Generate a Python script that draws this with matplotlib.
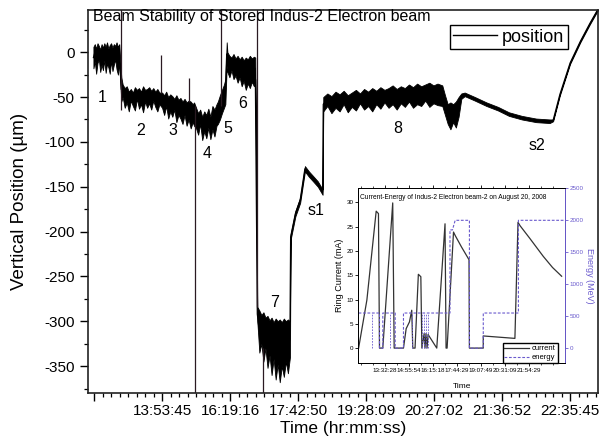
import matplotlib
matplotlib.use("Agg")
import matplotlib.pyplot as plt
from matplotlib.lines import Line2D
from matplotlib.ticker import FixedLocator, MultipleLocator
import numpy as np

plt.rcParams["font.family"] = ["Liberation Sans", "DejaVu Sans"]
plt.rcParams["axes.unicode_minus"] = False

# ---------- main trace: vertical position (um) vs sample index ----------
# noisy band read off the picture as upper / lower envelope
POS_X = [
    -1, 1, 3, 5, 7, 9, 11, 13, 15, 17, 19, 21, 23, 25, 27, 29, 31, 33, 35, 37,          # 1
    40, 42, 45, 48, 51, 54, 57, 60, 63, 66, 69, 72, 75, 78, 81, 84, 87, 90, 93, 96,     # 2
    100, 103, 106, 109, 112, 115, 118, 121, 124, 127, 130, 133, 136, 139, 142, 145, 147,  # 3
    150, 153, 156, 159, 162, 165, 168, 171, 174, 177, 180,                              # 4
    182, 185, 188, 191, 193,                                                            # 5
    195, 196, 199, 202, 205, 208, 211, 214, 217, 220, 223, 226, 229, 232, 235, 237,     # 6
    240, 243, 246, 249, 252, 255, 258, 261, 264, 267, 270, 273, 276, 279, 282, 285, 288,  # 7
    289, 296, 303, 310, 316, 322, 329, 336,                                             # s1
    337, 343, 349, 355, 361, 367, 373, 379, 385, 391, 397, 403, 409, 415, 421,
    427, 433, 439, 445, 451, 457, 463, 469, 475, 481, 487, 493, 499, 505, 512,          # 8
    516, 520, 524, 528, 532, 536, 540,                                                  # dip
    545, 560, 577, 594, 610, 629, 650, 670,                                             # s2
    675, 685, 700, 715, 729, 741,                                                       # rise
]
POS_HI = [
    6, 9, 4, 10, 7, 3, 9, 5, 10, 6, 11, 4, 8, 10, 5, 9, 7, 11, 6, 9,
    -28, -36, -40, -38, -44, -41, -45, -39, -42, -40, -44, -38, -42, -41, -39, -43, -40, -44, -41, -45,
    -45, -48, -44, -50, -47, -49, -52, -48, -53, -51, -55, -52, -56, -54, -55, -58, -56,
    -62, -68, -64, -72, -66, -70, -63, -72, -60, -64, -58,
    -55, -48, -42, -36, -30,
    11, 0, -4, -6, -2, -7, -4, -8, -5, -9, -6, -8, -4, -7, -5, -6,
    -284, -288, -293, -290, -296, -294, -299, -296, -301, -297, -300, -298, -301, -297, -300, -298, -300,
    -203, -177, -162, -127, -133, -138, -144, -153,
    -50, -46, -49, -44, -47, -43, -48, -45, -42, -46, -41, -44, -40, -43, -39,
    -42, -40, -37, -41, -38, -40, -36, -39, -35, -38, -36, -34, -37, -35, -37,
    -48, -58, -56, -58, -55, -50, -46,
    -45, -50, -56, -61, -67, -71, -74, -75,
    -75, -46, -11, 13, 33, 49,
]
POS_LO = [
    -18, -10, -24, -12, -8, -22, -14, -20, -9, -23, -13, -17, -24, -10, -21, -14, -8, -19, -25, -12,
    -55, -50, -62, -56, -66, -54, -60, -65, -52, -63, -58, -67, -55, -62, -57, -64, -54, -61, -66, -58,
    -62, -70, -60, -74, -66, -72, -64, -78, -70, -74, -80, -70, -82, -75, -85, -78, -82,
    -85, -92, -80, -98, -88, -96, -84, -97, -86, -94, -82,
    -80, -75, -68, -62, -58,
    -15, -22, -28, -20, -30, -26, -34, -28, -38, -32, -42, -35, -40, -33, -38, -30,
    -300, -335, -325, -345, -330, -352, -338, -360, -342, -365, -348, -368, -350, -362, -345, -358, -340,
    -209, -183, -168, -133, -139, -144, -150, -159,
    -66, -60, -68, -62, -66, -58, -67, -61, -65, -57, -64, -60, -66, -58, -63,
    -56, -62, -58, -64, -57, -61, -55, -62, -58, -60, -54, -61, -57, -59, -60,
    -70, -80, -86, -78, -84, -72, -52,
    -49, -54, -60, -65, -71, -75, -78, -79,
    -77, -48, -13, 11, 31, 47,
]

# transient spikes (vertical strokes)
SPIKE_X = [39, 98.5, 140, 149, 187, 239.5, 249]
SPIKE_TOP = [60, -3, -29, -60, 60, 60, -330]
SPIKE_BOT = [-65, -45, -55, -400, -60, -284, -400]

TIME_TICKS = [0, 100, 200, 300, 400, 500, 600, 700]
TIME_LABELS = ["", "13:53:45", "16:19:16", "17:42:50", "19:28:09",
               "20:27:02", "21:36:52", "22:35:45"]

REGION_TEXT = ["1", "2", "3", "4", "5", "6", "7", "8", "s1", "s2"]
REGION_X = [12, 68, 116, 166, 196, 219, 266, 446, 326, 651]
REGION_Y = [-50, -87, -87, -113, -85, -57, -279, -85, -176, -104]

# ---------- inset: ring current (mA) and energy (MeV) ----------
CUR_X = [0.2, 4.2, 8.7, 9.8, 10.3, 11.9, 16.7, 17.4, 21.9, 23.2, 24.8, 25.9, 26.4,
         27.5, 29.1, 30.3, 30.8, 31.9, 32.3, 32.8, 33.3, 33.8, 38.0, 42.0, 42.5,
         43.0, 46.1, 46.9, 50.0, 53.6, 53.8, 60.5, 60.5, 75.8, 77.3, 78.3, 83.0,
         89.5, 94.0, 98.4]
CUR_MA = [0, 9.9, 28.2, 27.7, 0, 0, 29.9, 0, 0, 4.0, 5.4, 7.8, 0,
          0, 15.2, 14.7, 0, 3.0, 0, 3.0, 0, 2.8, 0, 25.6, 0,
          0, 23.9, 23.2, 20.8, 18.2, 0, 0, 2.5, 2.0, 25.9, 25.2, 22.6,
          18.9, 16.6, 14.8]

EN_X = [0, 0, 10.3, 10.3, 11.9, 11.9, 17.9, 17.9, 21.9, 21.9, 44.4, 44.4,
        45.6, 46.9, 53.8, 53.8, 60.5, 60.5, 77.5, 77.5, 100]
EN_MEV = [0, 550, 550, 0, 0, 550, 550, 0, 0, 550, 550, 1850,
          1850, 2000, 2000, 0, 0, 550, 550, 2000, 2000]
EN_DIP_X = [6.5, 15.5, 26.0, 31.0, 32.0, 33.0, 34.0]

INSET_TICKS = [13.0, 24.6, 36.2, 47.8, 59.4, 71.0, 82.6]
INSET_LABELS = ["13:32:28", "14:55:54", "16:15:18", "17:44:29",
                "19:07:49", "20:31:09", "21:54:29"]

EN_COLOR = "#6a5acd"


def draw_main(fig):
    ax = fig.add_axes([0.1464, 0.1007, 0.8486, 0.8763])
    x = np.array(POS_X, dtype=float)
    hi = np.array(POS_HI, dtype=float)
    lo = np.array(POS_LO, dtype=float)

    ax.fill_between(x, lo, hi, color="black", linewidth=0.6, edgecolor="black")
    ax.plot(x, (hi + lo) / 2, color="black", lw=0.9)
    ax.vlines(SPIKE_X, SPIKE_BOT, SPIKE_TOP, color="#2a1a22", lw=0.9)

    for t, xx, yy in zip(REGION_TEXT, REGION_X, REGION_Y):
        ax.text(xx, yy, t, fontsize=11.5, ha="center", va="center")

    ax.text(0.01, 0.982, "Beam Stability of Stored Indus-2 Electron beam",
            transform=ax.transAxes, fontsize=11.5, ha="left", va="center")

    ax.set_xlim(-9, 741)
    ax.set_ylim(-380, 47)
    ax.xaxis.set_major_locator(FixedLocator(TIME_TICKS))
    ax.set_xticklabels(TIME_LABELS)
    ax.xaxis.set_minor_locator(MultipleLocator(12.5))
    ax.yaxis.set_major_locator(MultipleLocator(50))
    ax.yaxis.set_minor_locator(MultipleLocator(25))
    ax.tick_params(axis="both", which="major", labelsize=11, length=6, width=1)
    ax.tick_params(axis="both", which="minor", length=3, width=0.9)
    ax.tick_params(axis="x", pad=2)

    for s in ax.spines.values():
        s.set_linewidth(1.2)
        s.set_color("#222222")

    ax.set_ylabel("Vertical Position (\u00b5m)", fontsize=13.5, labelpad=12)
    ax.set_xlabel("Time (hr:mm:ss)", fontsize=12.5, labelpad=2)

    handle = Line2D([], [], color="black", lw=1)
    ax.legend([handle], ["position"], loc="upper right",
              bbox_to_anchor=(0.941, 0.961), fancybox=False, edgecolor="black",
              framealpha=1, fontsize=13, handlelength=2.4, borderpad=0.2,
              handletextpad=0.3, borderaxespad=0)
    return ax


def draw_inset(fig):
    ins = fig.add_axes([0.596, 0.169, 0.344, 0.400])
    ins.plot(CUR_X, CUR_MA, color="#333333", lw=0.9)
    ins.set_xlim(0, 100)
    ins.set_ylim(-3.1, 32.9)
    ins.xaxis.set_major_locator(FixedLocator(INSET_TICKS))
    ins.set_xticklabels(INSET_LABELS)
    ins.xaxis.set_minor_locator(FixedLocator([1.4 + 5.8 * k for k in range(17)]))
    ins.yaxis.set_major_locator(MultipleLocator(5))
    ins.tick_params(axis="both", labelsize=4.5, length=2, width=0.6, pad=1.5)
    ins.tick_params(axis="x", which="both", top=True)
    ins.tick_params(axis="x", which="minor", length=1.2, width=0.5)
    ins.set_xlabel("Time", fontsize=6, labelpad=7)
    ins.set_ylabel("Ring Current (mA)", fontsize=6.5, labelpad=2)
    ins.text(0.01, 0.95, "Current-Energy of Indus-2 Electron beam-2 on August 20, 2008",
             transform=ins.transAxes, fontsize=4.8, ha="left", va="center")

    en = ins.twinx()
    en.plot(EN_X, EN_MEV, color=EN_COLOR, lw=0.8, ls=(0, (2.5, 1.5)))
    en.vlines(EN_DIP_X, 0, 550, color=EN_COLOR, lw=0.6, ls=(0, (2, 1.5)))
    en.set_ylim(-234, 2500)
    en.yaxis.set_major_locator(MultipleLocator(500))
    en.tick_params(axis="y", labelsize=4.5, length=2, width=0.6, pad=1.5,
                   colors=EN_COLOR)
    en.spines["right"].set_color(EN_COLOR)
    en.set_ylabel("Energy (MeV)", fontsize=6.5, color=EN_COLOR,
                  rotation=270, va="bottom", labelpad=1)

    for a in (ins, en):
        for name, s in a.spines.items():
            s.set_linewidth(0.7)

    handles = [Line2D([], [], color="#333333", lw=0.9),
               Line2D([], [], color=EN_COLOR, lw=0.8, ls=(0, (2.5, 1.5)))]
    en.legend(handles, ["current", "energy"], loc="lower right",
              bbox_to_anchor=(0.965, 0.0), fancybox=False, edgecolor="black",
              framealpha=1, fontsize=5.5, handlelength=3.2, borderpad=0.25,
              handletextpad=0.4, labelspacing=0.2, borderaxespad=0)


def main():
    fig = plt.figure(figsize=(6.01, 4.37), dpi=100)
    draw_main(fig)
    draw_inset(fig)
    fig.savefig("out.png", dpi=100)
    plt.close(fig)


if __name__ == "__main__":
    main()
